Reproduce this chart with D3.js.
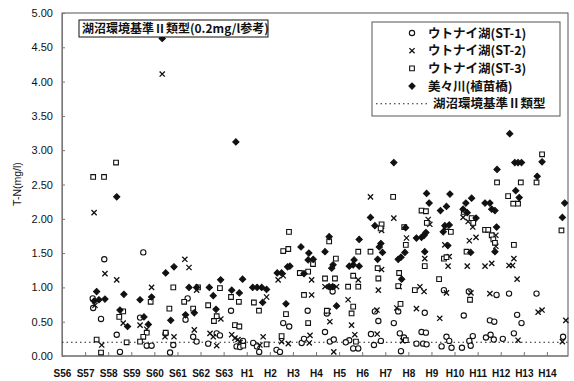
<!DOCTYPE html>
<html>
<head>
<meta charset="utf-8">
<script src="https://cdn.jsdelivr.net/npm/d3@7"></script>
<style>
  body { margin: 0; background: #fff; }
  svg { display: block; }
  .axis text { font-family: "Liberation Sans", Arial, sans-serif; fill: #111; }
  .jp { font-family: "Noto Sans CJK JP", sans-serif; font-weight: bold; fill: #111; }
</style>
</head>
<body>
<svg id="chart" width="574" height="381"></svg>
<script>
// 和暦ラベル (S56 = 1981 ... H14 = 2002)
const eraLabels = ["S56", "S57", "S58", "S59", "S60", "S61", "S62", "S63",
  "H1", "H2", "H3", "H4", "H5", "H6", "H7", "H8", "H9", "H10", "H11", "H12", "H13", "H14"];
const yTicks = [0, 0.5, 1, 1.5, 2, 2.5, 3, 3.5, 4, 4.5, 5];
const standardValue = 0.2;

// [年(小数), T-N mg/l]
const st1 = [
  [1982.35, 0.70], [1982.33, 0.84], [1982.69, 0.54], [1982.83, 1.41],
  [1983.37, 0.31], [1983.51, 0.06],
  [1984.52, 1.51], [1984.38, 0.56], [1984.67, 0.15], [1984.88, 0.15],
  [1985.49, 0.33], [1985.82, 0.16], [1985.68, 0.05],
  [1986.44, 0.84], [1986.35, 0.53], [1986.68, 0.28], [1986.83, 0.21],
  [1987.33, 0.18], [1987.70, 0.33], [1987.84, 0.30],
  [1988.32, 0.66], [1988.56, 0.14], [1988.84, 0.22], [1988.71, 0.13],
  [1989.28, 0.19], [1989.54, 0.06], [1989.44, 0.14],
  [1990.58, 0.48], [1990.84, 0.43], [1990.29, 0.09], [1990.44, 0.06],
  [1991.64, 0.66], [1991.38, 0.19], [1991.48, 0.25],
  [1992.72, 0.94], [1992.39, 0.35], [1992.60, 0.21], [1992.77, 0.24], [1992.47, 0.62],
  [1993.44, 0.23], [1993.61, 0.11], [1993.83, 0.11], [1993.29, 0.20],
  [1994.55, 0.65], [1994.70, 0.51], [1994.38, 0.32], [1994.51, 0.16], [1994.81, 0.22],
  [1995.56, 0.65], [1995.37, 0.48], [1995.63, 0.33], [1995.68, 0.07], [1995.81, 0.27],
  [1996.71, 0.63], [1996.57, 0.35], [1996.76, 0.34], [1996.35, 0.18], [1996.64, 0.18], [1996.79, 0.17],
  [1997.54, 0.96], [1997.65, 0.28], [1997.77, 0.22], [1997.87, 0.12], [1997.44, 0.14],
  [1998.62, 0.94], [1998.40, 0.59], [1998.79, 0.29], [1998.64, 0.22], [1998.70, 0.15], [1998.32, 0.12],
  [1999.82, 0.89], [1999.53, 0.52], [1999.72, 0.50], [1999.36, 0.27], [1999.56, 0.31], [1999.70, 0.24],
  [2000.36, 0.91], [2000.71, 0.60], [2000.90, 0.48], [2000.57, 0.33], [2000.09, 0.25],
  [2001.55, 0.91],
  [2002.70, 0.28]
];
const st2 = [
  [1982.39, 2.09], [1982.86, 1.20], [1982.43, 0.74], [1982.72, 0.16],
  [1983.37, 1.11], [1983.65, 0.48],
  [1984.88, 1.00], [1984.38, 0.45], [1984.67, 0.39],
  [1985.34, 4.11], [1985.46, 0.28], [1985.85, 0.28],
  [1986.32, 1.41], [1986.50, 1.29], [1986.73, 0.38], [1986.83, 0.96],
  [1987.41, 0.33], [1987.70, 0.15], [1987.88, 0.54], [1987.55, 0.28],
  [1988.35, 0.31], [1988.49, 0.26], [1988.71, 0.20], [1988.62, 0.24],
  [1989.86, 0.86], [1989.71, 0.28], [1989.57, 0.16],
  [1990.36, 1.11], [1990.58, 1.17], [1990.51, 0.21], [1990.80, 0.18],
  [1991.81, 1.11], [1991.81, 0.89], [1991.71, 0.19], [1991.74, 0.30],
  [1992.39, 1.01], [1992.89, 1.01], [1992.53, 0.65], [1992.60, 0.50], [1992.77, 0.06],
  [1993.83, 1.11], [1993.39, 0.82], [1993.54, 0.45], [1993.68, 0.31],
  [1994.36, 2.32], [1994.84, 1.83], [1994.84, 1.26], [1994.70, 0.96], [1994.64, 0.67], [1994.65, 0.32],
  [1995.37, 2.01], [1995.92, 1.72], [1995.60, 1.01], [1995.50, 0.70], [1995.76, 0.22],
  [1996.86, 1.99], [1996.93, 1.92], [1996.71, 1.42], [1996.50, 1.01], [1996.68, 0.94], [1996.35, 0.69],
  [1997.58, 1.62], [1997.77, 1.45], [1997.72, 1.31], [1997.65, 0.92], [1997.36, 0.55],
  [1998.37, 2.02], [1998.59, 1.96], [1998.79, 1.88], [1998.64, 1.68], [1998.93, 1.73], [1998.55, 1.31], [1998.71, 0.92],
  [1999.79, 1.60], [1999.32, 1.31], [1999.61, 1.35], [1999.53, 0.91], [1999.79, 1.76],
  [2000.57, 1.42], [2000.36, 1.32], [2000.51, 1.32], [2000.71, 1.12], [2000.75, 0.23],
  [2001.62, 0.64], [2001.79, 0.67],
  [2002.82, 0.52], [2002.67, 0.21]
];
const st3 = [
  [1982.35, 2.61], [1982.82, 2.61], [1982.50, 0.24], [1982.69, 0.05],
  [1983.34, 2.82], [1983.65, 0.65], [1983.48, 0.57], [1983.80, 0.20],
  [1984.84, 0.79], [1984.67, 0.34], [1984.52, 0.28], [1984.38, 0.21],
  [1985.82, 1.00], [1985.65, 0.69], [1985.49, 0.34],
  [1986.29, 0.79], [1986.68, 0.69], [1986.89, 1.00],
  [1987.33, 0.74], [1987.84, 0.99], [1987.58, 0.51], [1987.70, 0.58],
  [1988.32, 0.86], [1988.66, 0.79], [1988.49, 0.45], [1988.68, 0.43], [1988.85, 0.15],
  [1989.31, 0.78], [1989.53, 0.66], [1989.86, 0.17],
  [1990.83, 1.81], [1990.58, 1.53], [1990.80, 1.56], [1990.70, 0.61], [1990.51, 0.29],
  [1991.30, 1.21], [1991.66, 1.23], [1991.87, 1.34], [1991.48, 0.89], [1991.66, 0.48],
  [1992.57, 1.67], [1992.86, 1.42], [1992.39, 1.13], [1992.82, 1.13], [1992.47, 0.66],
  [1993.83, 1.52], [1993.61, 1.17], [1993.39, 1.01], [1993.83, 1.01], [1993.61, 0.72], [1993.54, 0.62], [1993.73, 0.21],
  [1994.84, 1.92], [1994.80, 1.86], [1994.36, 1.52], [1994.67, 1.28], [1994.70, 1.13],
  [1995.34, 2.32], [1995.82, 1.88], [1995.89, 1.62], [1995.60, 1.21], [1995.56, 1.02], [1995.66, 0.76], [1995.89, 0.23],
  [1996.57, 2.12], [1996.76, 2.11], [1996.71, 1.31], [1996.28, 0.96], [1996.80, 1.94],
  [1997.62, 1.88], [1997.84, 1.81], [1997.54, 1.42], [1997.65, 1.44], [1997.33, 1.12],
  [1998.40, 2.10], [1998.74, 2.01], [1998.81, 1.94], [1998.52, 1.52], [1998.67, 0.82],
  [1999.32, 1.84], [1999.46, 1.84], [1999.61, 1.76], [1999.68, 1.70], [1999.75, 1.65], [1999.84, 2.53],
  [2000.32, 2.33], [2000.54, 2.22], [2000.75, 2.22], [2000.87, 2.53], [2000.57, 1.62],
  [2001.79, 2.94], [2001.55, 2.53],
  [2002.63, 1.83]
];
const bibi = [
  [1982.50, 0.94], [1982.39, 0.80], [1982.60, 0.82], [1982.86, 0.83],
  [1983.37, 2.32], [1983.68, 0.90], [1983.51, 0.67], [1983.84, 0.43],
  [1984.38, 0.82], [1984.88, 0.86], [1984.55, 0.57], [1984.74, 0.46],
  [1985.34, 4.63], [1985.49, 1.21], [1985.85, 1.30], [1985.71, 0.52],
  [1986.50, 1.00], [1986.83, 1.00], [1986.35, 0.60], [1986.73, 0.63],
  [1987.38, 1.00], [1987.55, 0.88], [1987.87, 1.11], [1987.67, 0.68],
  [1988.35, 0.96], [1988.68, 0.92], [1988.82, 1.12], [1988.53, 3.12],
  [1989.26, 1.00], [1989.45, 1.00], [1989.65, 1.00], [1989.86, 0.97], [1989.69, 0.78],
  [1990.32, 1.21], [1990.51, 1.21], [1990.77, 1.30], [1990.87, 1.31], [1990.70, 0.76],
  [1991.35, 1.59], [1991.69, 1.50], [1991.66, 1.40], [1991.88, 1.41], [1991.48, 1.20],
  [1992.57, 1.74], [1992.39, 1.52], [1992.74, 1.33], [1992.68, 1.28], [1992.57, 1.01], [1992.72, 1.01], [1992.89, 0.73],
  [1993.87, 1.70], [1993.65, 1.40], [1993.61, 1.33], [1993.44, 1.31], [1993.87, 1.31],
  [1994.36, 2.02], [1994.55, 1.90], [1994.81, 1.64], [1994.74, 1.59], [1994.88, 1.51], [1994.67, 1.41],
  [1995.37, 2.82], [1995.88, 1.87], [1995.85, 1.51], [1995.68, 1.44], [1995.56, 1.41], [1995.71, 1.12],
  [1996.79, 2.37], [1996.90, 2.23], [1996.35, 1.72], [1996.57, 1.73], [1996.68, 1.76], [1996.76, 1.80], [1996.71, 1.52],
  [1997.80, 2.36], [1997.39, 2.12], [1997.65, 2.18], [1997.51, 1.81], [1997.58, 1.90], [1997.77, 1.91], [1997.71, 1.61],
  [1998.37, 2.14], [1998.55, 2.09], [1998.74, 2.30], [1998.49, 2.23], [1998.93, 2.01], [1998.70, 1.51],
  [1999.32, 2.23], [1999.53, 2.23], [1999.61, 2.14], [1999.75, 2.12], [1999.82, 1.88], [1999.75, 1.52], [1999.84, 2.72],
  [2000.39, 3.24], [2000.61, 2.82], [2000.75, 2.82], [2000.90, 2.82], [2000.65, 2.41], [2000.80, 2.31],
  [2001.79, 2.83], [2001.58, 2.62],
  [2002.77, 2.23], [2002.67, 2.02]
];

const seriesNames = ["ウトナイ湖(ST-1)", "ウトナイ湖(ST-2)", "ウトナイ湖(ST-3)", "美々川(植苗橋)"];
const standardName = "湖沼環境基準Ⅱ類型";
const boxTitle = "湖沼環境基準Ⅱ類型(0.2mg/l参考)";
const yTitle = "T-N(mg/l)";

const svg = d3.select("#chart");
const plot = { left: 62, right: 568, top: 13, bottom: 356 };

const x = d3.scaleLinear().domain([1981, 2003]).range([plot.left, 570]);
const y = d3.scaleLinear().domain([0, 5]).range([plot.bottom, plot.top]);

// マーカー形状
const markerPath = {
  circle: d3.symbol(d3.symbolCircle, 22)(),
  square: d3.symbol(d3.symbolSquare, 22)(),
  diamond: d3.symbol(d3.symbolSquare, 20)(),
  cross: "M-2.6,-2.6L2.6,2.6M-2.6,2.6L2.6,-2.6"
};
const series = [
  { name: seriesNames[0], data: st1, shape: "circle", fill: "#fff", rot: 0, sw: 1.1 },
  { name: seriesNames[1], data: st2, shape: "cross", fill: "none", rot: 0, sw: 1.3 },
  { name: seriesNames[2], data: st3, shape: "square", fill: "#fff", rot: 0, sw: 1.1 },
  { name: seriesNames[3], data: bibi, shape: "diamond", fill: "#111", rot: 45, sw: 1 }
];

// 枠
svg.append("rect")
  .attr("x", plot.left).attr("y", plot.top)
  .attr("width", plot.right - plot.left).attr("height", plot.bottom - plot.top)
  .attr("fill", "none").attr("stroke", "#555").attr("stroke-width", 1);

const yAxis = d3.axisLeft(y)
  .tickValues(yTicks)
  .tickFormat(d3.format(".2f"))
  .tickSizeInner(-3).tickSizeOuter(0).tickPadding(9);
svg.append("g").attr("class", "axis")
  .attr("transform", `translate(${plot.left},0)`)
  .call(yAxis)
  .call(g => g.select(".domain").attr("stroke", "#777"))
  .call(g => g.selectAll(".tick line").attr("stroke", "#777"))
  .call(g => g.selectAll("text").attr("font-size", 11));

const xAxis = d3.axisBottom(x)
  .tickValues(d3.range(1981, 2003))
  .tickFormat((d, i) => eraLabels[i])
  .tickSizeInner(-4).tickSizeOuter(0).tickPadding(14);
svg.append("g").attr("class", "axis")
  .attr("transform", `translate(0,${plot.bottom})`)
  .call(xAxis)
  .call(g => g.select(".domain").attr("stroke", "#777").attr("d", `M${plot.left},0H${plot.right}`))
  .call(g => g.selectAll(".tick line").attr("stroke", "#777"))
  .call(g => g.selectAll("text").attr("font-size", 10).attr("font-weight", "bold"));

svg.append("text").attr("class", "axis")
  .attr("transform", `translate(21,184) rotate(-90)`)
  .attr("text-anchor", "middle")
  .attr("font-family", "Liberation Sans, Arial, sans-serif")
  .attr("font-size", 10.5).attr("fill", "#111")
  .text(yTitle);

// 環境基準線
svg.append("line")
  .attr("x1", plot.left).attr("x2", plot.right)
  .attr("y1", y(standardValue)).attr("y2", y(standardValue))
  .attr("stroke", "#222").attr("stroke-width", 1.1)
  .attr("stroke-dasharray", "1.5,3");

// 点
series.forEach(s => {
  svg.append("g").selectAll("path")
    .data(s.data)
    .join("path")
    .attr("d", markerPath[s.shape])
    .attr("transform", d => `translate(${x(d[0])},${y(d[1])}) rotate(${s.rot})`)
    .attr("fill", s.fill)
    .attr("stroke", "#111")
    .attr("stroke-width", s.sw);
});

// タイトルボックス
const tb = svg.append("g").attr("transform", "translate(79,20)");
tb.append("rect").attr("width", 189).attr("height", 17)
  .attr("fill", "#fff").attr("stroke", "#111").attr("stroke-width", 1);
tb.append("text").attr("class", "jp")
  .attr("x", 3).attr("y", 13).attr("font-size", 12)
  .text(boxTitle);

// 凡例
const lg = svg.append("g").attr("transform", "translate(372,22)");
lg.append("rect").attr("width", 188).attr("height", 94)
  .attr("fill", "#fff").attr("stroke", "#555").attr("stroke-width", 1);
const rowY = i => 11 + i * 17.7;
series.forEach((s, i) => {
  lg.append("path")
    .attr("d", markerPath[s.shape])
    .attr("transform", `translate(40,${rowY(i)}) rotate(${s.rot})`)
    .attr("fill", s.fill).attr("stroke", "#111").attr("stroke-width", s.sw);
  lg.append("text").attr("class", "jp")
    .attr("x", 56).attr("y", rowY(i) + 4.5).attr("font-size", 12.5)
    .text(s.name);
});
lg.append("line")
  .attr("x1", 4).attr("x2", 57)
  .attr("y1", rowY(4)).attr("y2", rowY(4))
  .attr("stroke", "#222").attr("stroke-width", 1.1)
  .attr("stroke-dasharray", "1.5,3");
lg.append("text").attr("class", "jp")
  .attr("x", 61).attr("y", rowY(4) + 4.5).attr("font-size", 12.5)
  .text(standardName);
</script>
</body>
</html>
